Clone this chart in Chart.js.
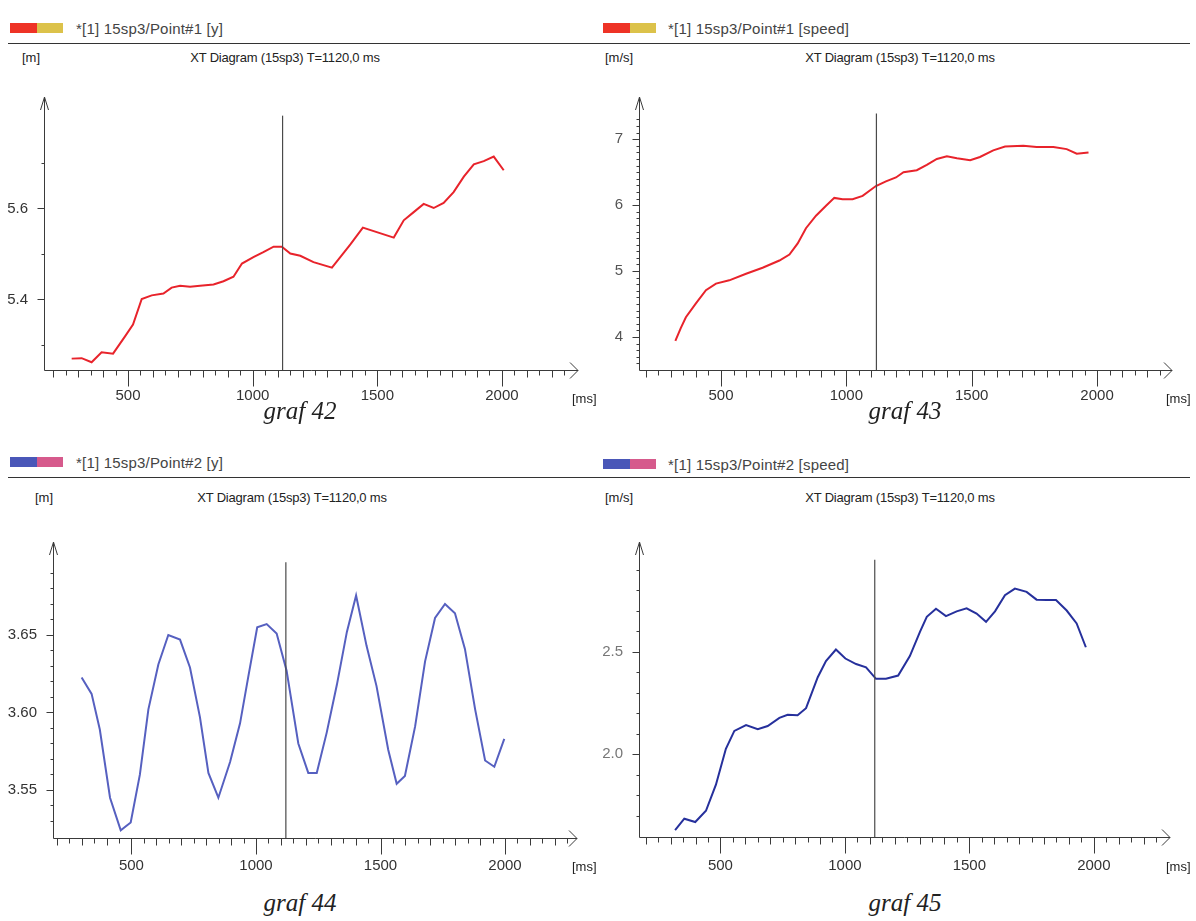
<!DOCTYPE html>
<html>
<head>
<meta charset="utf-8">
<script src="https://cdn.jsdelivr.net/npm/chart.js@4.4.1/dist/chart.umd.min.js"></script>
<style>
  html, body { margin: 0; padding: 0; background: #fff; }
  body { width: 1196px; height: 921px; position: relative; overflow: hidden; font-family: "Liberation Sans", Arial, sans-serif; color: #333; }
  canvas { position: absolute; }
  .txt { position: absolute; white-space: nowrap; transform: translateY(-50%); }
  .mid { transform: translate(-50%, -50%); }
  .legend { font-size: 15px; color: #444; letter-spacing: 0.2px; }
  .title { font-size: 13px; color: #222; letter-spacing: -0.2px; }
  .unit { font-size: 13px; color: #222; }
  .graf { font-family: "Liberation Serif", "Times New Roman", serif; font-style: italic; font-size: 25px; color: #222; }
  .swatch { position: absolute; width: 53px; height: 10px; }
  .swatch span { display: inline-block; width: 50%; height: 100%; vertical-align: top; }
  .rule { position: absolute; height: 0; border-top: 1.5px solid #333; }
</style>
</head>
<body>

<canvas id="c42" width="598" height="340" style="left:0px;top:80px"></canvas>
<canvas id="c43" width="598" height="340" style="left:598px;top:80px"></canvas>
<canvas id="c44" width="598" height="360" style="left:0px;top:525px"></canvas>
<canvas id="c45" width="598" height="360" style="left:598px;top:525px"></canvas>

<!-- headers: graf 42 -->
<div class="swatch" style="left:10px;top:23px"><span style="background:#ee3326"></span><span style="background:#dcc24a"></span></div>
<div class="txt legend" style="left:76px;top:28px">*[1] 15sp3/Point#1 [y]</div>
<div class="rule" style="left:8px;top:43px;width:590px"></div>
<div class="txt unit" style="left:22px;top:57px">[m]</div>
<div class="txt mid title" style="left:285px;top:57px">XT Diagram (15sp3) T=1120,0 ms</div>
<div class="txt unit" style="left:572px;top:398px">[ms]</div>
<div class="txt mid graf" style="left:300px;top:411px">graf 42</div>

<!-- graf 43 -->
<div class="swatch" style="left:603px;top:23px"><span style="background:#ee3326"></span><span style="background:#dcc24a"></span></div>
<div class="txt legend" style="left:668px;top:28px">*[1] 15sp3/Point#1 [speed]</div>
<div class="rule" style="left:598px;top:43px;width:592px"></div>
<div class="txt unit" style="left:605px;top:57px">[m/s]</div>
<div class="txt mid title" style="left:900px;top:57px">XT Diagram (15sp3) T=1120,0 ms</div>
<div class="txt unit" style="left:1166px;top:398px">[ms]</div>
<div class="txt mid graf" style="left:905px;top:411px">graf 43</div>

<!-- graf 44 -->
<div class="swatch" style="left:10px;top:457px"><span style="background:#4a57b8"></span><span style="background:#d65a8c"></span></div>
<div class="txt legend" style="left:76px;top:462px">*[1] 15sp3/Point#2 [y]</div>
<div class="rule" style="left:8px;top:477px;width:590px"></div>
<div class="txt unit" style="left:35px;top:497px">[m]</div>
<div class="txt mid title" style="left:292px;top:497px">XT Diagram (15sp3) T=1120,0 ms</div>
<div class="txt unit" style="left:572px;top:866px">[ms]</div>
<div class="txt mid graf" style="left:300px;top:903px">graf 44</div>

<!-- graf 45 -->
<div class="swatch" style="left:603px;top:459px"><span style="background:#4a57b8"></span><span style="background:#d65a8c"></span></div>
<div class="txt legend" style="left:668px;top:464px">*[1] 15sp3/Point#2 [speed]</div>
<div class="rule" style="left:598px;top:477px;width:592px"></div>
<div class="txt unit" style="left:605px;top:497px">[m/s]</div>
<div class="txt mid title" style="left:900px;top:497px">XT Diagram (15sp3) T=1120,0 ms</div>
<div class="txt unit" style="left:1166px;top:866px">[ms]</div>
<div class="txt mid graf" style="left:905px;top:903px">graf 45</div>

<script>
// cursor time shown by the vertical line in every diagram
const cursorT = 1120;

// x axis labels (ms), shared by all four diagrams
const xLabels = [500, 1000, 1500, 2000];

// graf 42: Point#1, y [m]
const t42 = [274, 314, 354, 394, 440, 488, 520, 555, 595, 642, 675, 709, 749, 789, 843, 883, 923, 957, 1003, 1043,
  1084, 1117, 1151, 1191, 1244, 1318, 1392, 1442, 1566, 1606, 1646, 1686, 1726, 1766, 1806, 1847, 1887, 1927, 1967, 2007];
const y42 = [5.270, 5.271, 5.262, 5.284, 5.281, 5.319, 5.345, 5.401, 5.409, 5.413, 5.426, 5.430, 5.428, 5.430, 5.433, 5.440,
  5.450, 5.479, 5.493, 5.504, 5.516, 5.516, 5.501, 5.496, 5.482, 5.470, 5.521, 5.558, 5.536, 5.574, 5.592, 5.610, 5.601,
  5.612, 5.636, 5.670, 5.697, 5.704, 5.714, 5.684];
const yLabels42 = [5.4, 5.6];

// graf 43: Point#1, speed [m/s]
const t43 = [318, 340, 360, 400, 440, 480, 533, 600, 666, 733, 773, 806, 839, 879, 919, 952, 985, 1025, 1065, 1118,
  1158, 1198, 1228, 1281, 1321, 1361, 1401, 1441, 1494, 1533, 1586, 1633, 1706, 1759, 1826, 1879, 1919, 1966];
const v43 = [3.94, 4.14, 4.30, 4.51, 4.71, 4.81, 4.86, 4.96, 5.05, 5.16, 5.25, 5.42, 5.65, 5.84, 5.99, 6.11, 6.09, 6.09,
  6.14, 6.29, 6.36, 6.42, 6.50, 6.53, 6.61, 6.70, 6.74, 6.71, 6.68, 6.73, 6.83, 6.89, 6.90, 6.88, 6.88, 6.85, 6.78, 6.80];
const yLabels43 = [4, 5, 6, 7];

// graf 44: Point#2, y [m]
const t44 = [300, 340, 373, 414, 457, 497, 534, 568, 608, 648, 695, 735, 775, 809, 849, 896, 936, 969, 1005, 1043,
  1083, 1123, 1170, 1210, 1244, 1284, 1325, 1365, 1402, 1444, 1484, 1531, 1565, 1598, 1639, 1679, 1719, 1759, 1799,
  1839, 1880, 1920, 1957, 1997];
const y44 = [3.6226, 3.612, 3.589, 3.545, 3.524, 3.529, 3.560, 3.602, 3.631, 3.650, 3.647, 3.629, 3.597, 3.561, 3.545,
  3.568, 3.593, 3.623, 3.655, 3.657, 3.651, 3.627, 3.580, 3.561, 3.561, 3.587, 3.618, 3.652, 3.6755, 3.643, 3.617, 3.576,
  3.554, 3.559, 3.591, 3.633, 3.661, 3.670, 3.664, 3.641, 3.602, 3.569, 3.565, 3.583];
const yLabels44 = [3.55, 3.60, 3.65];

// graf 45: Point#2, speed [m/s]
const t45 = [318, 355, 399, 442, 482, 522, 556, 603, 650, 690, 737, 770, 810, 844, 891, 924, 964, 1002, 1045, 1085,
  1125, 1165, 1214, 1261, 1302, 1329, 1366, 1406, 1449, 1489, 1529, 1567, 1603, 1643, 1683, 1730, 1770, 1811, 1848,
  1891, 1931, 1968];
const v45 = [1.630, 1.686, 1.670, 1.725, 1.852, 2.027, 2.114, 2.143, 2.122, 2.138, 2.178, 2.193, 2.190, 2.225, 2.376,
  2.455, 2.511, 2.467, 2.440, 2.424, 2.368, 2.368, 2.384, 2.479, 2.598, 2.670, 2.710, 2.674, 2.697, 2.712, 2.686, 2.646,
  2.697, 2.776, 2.808, 2.792, 2.754, 2.752, 2.752, 2.701, 2.638, 2.522];
const yLabels45 = [2.0, 2.5];

// list of tick values between a and b (inclusive) with the given step
function tickRange(a, b, step) {
  const out = [];
  for (let k = Math.round(a / step); k <= Math.round(b / step); k++) {
    out.push(+(k * step).toFixed(6));
  }
  return out;
}

const isLabel = (list, v) => list.some((l) => Math.abs(l - v) < 1e-6);

// axes with arrows and hanging tick marks, like the XT diagram tool draws them
const xtAxes = {
  id: "xtAxes",
  beforeDatasetsDraw(chart) {
    const { ctx, chartArea: a, scales } = chart;
    const x = scales.x, y = scales.y;
    const L = Math.round(a.left) + 0.5, B = Math.round(a.bottom) + 0.5;
    ctx.save();
    ctx.strokeStyle = "#3a3a3a";
    ctx.lineWidth = 1;
    ctx.beginPath();
    ctx.moveTo(L, B);
    ctx.lineTo(L, a.top);
    ctx.moveTo(L, B);
    ctx.lineTo(a.right, B);
    // arrow heads
    ctx.moveTo(L - 4, a.top + 13);
    ctx.lineTo(L, a.top);
    ctx.lineTo(L + 4, a.top + 13);
    ctx.moveTo(a.right - 8, B - 8);
    ctx.lineTo(a.right, B);
    ctx.lineTo(a.right - 8, B + 8);
    x.ticks.forEach((t) => {
      const px = Math.round(x.getPixelForValue(t.value)) + 0.5;
      const len = t.value % 500 === 0 ? 16 : t.value % 100 === 0 ? 7 : 5;
      ctx.moveTo(px, B);
      ctx.lineTo(px, B + len);
    });
    y.ticks.forEach((t) => {
      const py = Math.round(y.getPixelForValue(t.value)) + 0.5;
      const len = t.label ? 7 : 3;
      ctx.moveTo(L - len, py);
      ctx.lineTo(L, py);
    });
    ctx.stroke();
    ctx.restore();
  },
};

// one XT diagram; box = canvas rect on page, plot = axis rect on page
function xtDiagram(id, cfg) {
  const { times, values, color, x0, x1, y0, y1, yTicks, yLabels, digits, cursorTop, box, plot, labelColor } = cfg;
  const pts = times.map((t, i) => ({ x: t, y: values[i] }));
  const xTicks = tickRange(200, 2250, 50);

  new Chart(document.getElementById(id), {
    type: "line",
    data: {
      datasets: [
        {
          data: [{ x: cursorT, y: y0 }, { x: cursorT, y: cursorTop }],
          borderColor: "#4a4a4a",
          borderWidth: 1.2,
          pointRadius: 0,
        },
        {
          data: pts,
          borderColor: color,
          borderWidth: 2,
          pointRadius: 0,
          tension: 0,
        },
      ],
    },
    plugins: [xtAxes],
    options: {
      responsive: false,
      animation: false,
      events: [],
      layout: {
        padding: { left: 0, top: plot.top - box.top, right: box.left + box.w - plot.right, bottom: 0 },
      },
      plugins: { legend: { display: false }, tooltip: { enabled: false } },
      scales: {
        x: {
          type: "linear",
          min: x0,
          max: x1,
          grid: { display: false },
          border: { display: false },
          afterBuildTicks: (s) => { s.ticks = xTicks.map((v) => ({ value: v })); },
          afterFit: (s) => { s.height = box.top + box.h - plot.bottom; },
          ticks: {
            autoSkip: false,
            maxRotation: 0,
            padding: cfg.xPad,
            color: "#333",
            font: { family: "Liberation Sans", size: 15 },
            callback: (v) => (isLabel(xLabels, v) ? String(v) : ""),
          },
        },
        y: {
          type: "linear",
          min: y0,
          max: y1,
          grid: { display: false },
          border: { display: false },
          afterBuildTicks: (s) => { s.ticks = yTicks.map((v) => ({ value: v })); },
          afterFit: (s) => { s.width = plot.left - box.left; },
          ticks: {
            autoSkip: false,
            padding: 8,
            color: labelColor,
            font: { family: "Liberation Sans", size: 15 },
            callback: (v) => (isLabel(yLabels, v) ? v.toFixed(digits) : ""),
          },
        },
      },
    },
  });
}

xtDiagram("c42", {
  times: t42, values: y42, color: "#e8232b",
  x0: 163, x1: 2305, y0: 5.245, y1: 5.845,
  yTicks: tickRange(5.3, 5.7, 0.1), yLabels: yLabels42, digits: 1, cursorTop: 5.804,
  labelColor: "#333", xPad: 9,
  box: { left: 0, top: 80, w: 598, h: 340 },
  plot: { left: 44, top: 88, right: 578, bottom: 370 },
});

xtDiagram("c43", {
  times: t43, values: v43, color: "#e8232b",
  x0: 173, x1: 2299, y0: 3.5, y1: 7.64,
  yTicks: tickRange(3.6, 7.3, 0.1), yLabels: yLabels43, digits: 0, cursorTop: 7.39,
  labelColor: "#555", xPad: 9,
  box: { left: 598, top: 80, w: 598, h: 340 },
  plot: { left: 639, top: 90, right: 1172, bottom: 370 },
});

xtDiagram("c44", {
  times: t44, values: y44, color: "#5660c0",
  x0: 185, x1: 2289, y0: 3.519, y1: 3.71,
  yTicks: tickRange(3.53, 3.69, 0.01), yLabels: yLabels44, digits: 2, cursorTop: 3.697,
  labelColor: "#333", xPad: 11,
  box: { left: 0, top: 525, w: 598, h: 360 },
  plot: { left: 53, top: 535, right: 577, bottom: 838 },
});

xtDiagram("c45", {
  times: t45, values: v45, color: "#26309c",
  x0: 173, x1: 2306, y0: 1.597, y1: 3.035,
  yTicks: tickRange(1.7, 2.9, 0.1), yLabels: yLabels45, digits: 1, cursorTop: 2.949,
  labelColor: "#777", xPad: 12,
  box: { left: 598, top: 525, w: 598, h: 360 },
  plot: { left: 639, top: 535, right: 1170, bottom: 837 },
});
</script>
</body>
</html>
